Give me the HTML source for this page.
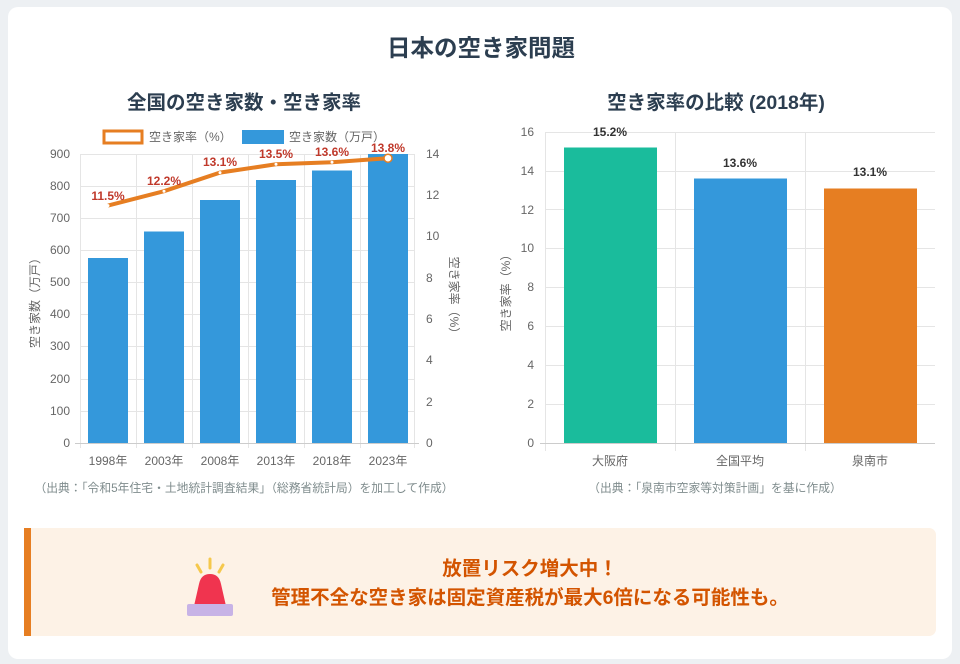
<!DOCTYPE html>
<html><head><meta charset="utf-8"><style>
html,body{margin:0;padding:0;background:#edf0f3;width:960px;height:664px;overflow:hidden}
svg{display:block}
text{font-family:"Liberation Sans","Noto Sans CJK JP",sans-serif}
</style></head><body>
<svg width="960" height="664" viewBox="0 0 960 664" xmlns="http://www.w3.org/2000/svg">
<rect x="8" y="7" width="944" height="652" rx="10" fill="#fff"/>
<text x="481" y="56" text-anchor="middle" font-size="23.5" font-weight="bold" fill="#2c3e50">日本の空き家問題</text>
<text x="244" y="109" text-anchor="middle" font-size="19.5" font-weight="bold" fill="#2c3e50">全国の空き家数・空き家率</text>
<text x="716" y="109" text-anchor="middle" font-size="19.5" font-weight="bold" fill="#2c3e50">空き家率の比較 (2018年)</text>

<!-- left chart -->
<g stroke="#e5e5e5" stroke-width="1">
<line x1="80" y1="154.5" x2="414" y2="154.5"/><line x1="80" y1="186.5" x2="414" y2="186.5"/><line x1="80" y1="218.5" x2="414" y2="218.5"/><line x1="80" y1="250.5" x2="414" y2="250.5"/><line x1="80" y1="282.5" x2="414" y2="282.5"/><line x1="80" y1="314.5" x2="414" y2="314.5"/><line x1="80" y1="346.5" x2="414" y2="346.5"/><line x1="80" y1="379.5" x2="414" y2="379.5"/><line x1="80" y1="411.5" x2="414" y2="411.5"/>
<line x1="136.5" y1="154" x2="136.5" y2="448"/><line x1="192.5" y1="154" x2="192.5" y2="448"/><line x1="248.5" y1="154" x2="248.5" y2="448"/><line x1="304.5" y1="154" x2="304.5" y2="448"/><line x1="360.5" y1="154" x2="360.5" y2="448"/>
<line x1="80.5" y1="154" x2="80.5" y2="448"/><line x1="414.5" y1="154" x2="414.5" y2="448"/>
<line x1="75" y1="443.5" x2="419" y2="443.5" stroke="#ccc"/>
</g>
<g fill="#3498db">
<rect x="88" y="258" width="40" height="185"/>
<rect x="144" y="231.5" width="40" height="211.5"/>
<rect x="200" y="200" width="40" height="243"/>
<rect x="256" y="180" width="40" height="263"/>
<rect x="312" y="170.5" width="40" height="272.5"/>
<rect x="368" y="154" width="40" height="289"/>
</g>
<g font-size="12" fill="#666" text-anchor="end">
<text x="70" y="158">900</text><text x="70" y="190">800</text><text x="70" y="222">700</text><text x="70" y="254">600</text><text x="70" y="286">500</text><text x="70" y="318">400</text><text x="70" y="350">300</text><text x="70" y="383">200</text><text x="70" y="415">100</text><text x="70" y="447">0</text>
</g>
<g font-size="12" fill="#666">
<text x="426" y="158">14</text><text x="426" y="199">12</text><text x="426" y="240">10</text><text x="426" y="282">8</text><text x="426" y="323">6</text><text x="426" y="364">4</text><text x="426" y="406">2</text><text x="426" y="447">0</text>
</g>
<g font-size="12" fill="#666" text-anchor="middle">
<text x="108" y="465">1998年</text><text x="164" y="465">2003年</text><text x="220" y="465">2008年</text><text x="276" y="465">2013年</text><text x="332" y="465">2018年</text><text x="388" y="465">2023年</text>
</g>
<text transform="translate(39,300) rotate(-90)" font-size="12" fill="#666" text-anchor="middle">空き家数（万戸）</text>
<text transform="translate(450,298) rotate(90)" font-size="12" fill="#666" text-anchor="middle">空き家率（%）</text>
<polyline points="108,205.6 164,191.2 220,172.6 276,164.3 332,162.3 388,158.2" fill="none" stroke="#e67e22" stroke-width="4"/>
<g fill="#fff"><circle cx="108" cy="205.6" r="1.5"/><circle cx="164" cy="191.2" r="1.5"/><circle cx="220" cy="172.6" r="1.5"/><circle cx="276" cy="164.3" r="1.5"/><circle cx="332" cy="162.3" r="1.5"/></g>
<circle cx="388" cy="158.2" r="4" fill="#fff" stroke="#e67e22" stroke-width="1.5"/>
<g font-size="12" font-weight="bold" fill="#c0392b" text-anchor="middle">
<text x="108" y="200">11.5%</text><text x="164" y="185">12.2%</text><text x="220" y="166">13.1%</text><text x="276" y="158">13.5%</text><text x="332" y="156">13.6%</text><text x="388" y="152">13.8%</text>
</g>
<rect x="104" y="131" width="38" height="12" fill="#fff" stroke="#e67e22" stroke-width="3"/>
<text x="149" y="141" font-size="12" fill="#666">空き家率（%）</text>
<rect x="242" y="130" width="42" height="14" fill="#3498db"/>
<text x="289" y="141" font-size="12" fill="#666">空き家数（万戸）</text>
<text x="244" y="492" text-anchor="middle" font-size="11.8" fill="#7f8c8d">（出典：「令和5年住宅・土地統計調査結果」（総務省統計局）を加工して作成）</text>

<!-- right chart -->
<g stroke="#e5e5e5" stroke-width="1">
<line x1="545" y1="132.5" x2="935" y2="132.5"/><line x1="545" y1="171.5" x2="935" y2="171.5"/><line x1="545" y1="209.5" x2="935" y2="209.5"/><line x1="545" y1="248.5" x2="935" y2="248.5"/><line x1="545" y1="287.5" x2="935" y2="287.5"/><line x1="545" y1="326.5" x2="935" y2="326.5"/><line x1="545" y1="365.5" x2="935" y2="365.5"/><line x1="545" y1="404.5" x2="935" y2="404.5"/>
<line x1="545.5" y1="132" x2="545.5" y2="451"/><line x1="675.5" y1="132" x2="675.5" y2="451"/><line x1="805.5" y1="132" x2="805.5" y2="451"/>
<line x1="540" y1="443.5" x2="935" y2="443.5" stroke="#ccc"/>
</g>
<rect x="564" y="147.5" width="93" height="295.5" fill="#1abc9c"/>
<rect x="694" y="178.5" width="93" height="264.5" fill="#3498db"/>
<rect x="824" y="188.5" width="93" height="254.5" fill="#e67e22"/>
<g font-size="12" font-weight="bold" fill="#333" text-anchor="middle">
<text x="610" y="136">15.2%</text><text x="740" y="167">13.6%</text><text x="870" y="176">13.1%</text>
</g>
<g font-size="12" fill="#666" text-anchor="end">
<text x="534" y="136">16</text><text x="534" y="175">14</text><text x="534" y="214">12</text><text x="534" y="252">10</text><text x="534" y="291">8</text><text x="534" y="330">6</text><text x="534" y="369">4</text><text x="534" y="408">2</text><text x="534" y="447">0</text>
</g>
<g font-size="12" fill="#666" text-anchor="middle">
<text x="610" y="465">大阪府</text><text x="740" y="465">全国平均</text><text x="870" y="465">泉南市</text>
</g>
<text transform="translate(510,290) rotate(-90)" font-size="12" fill="#666" text-anchor="middle">空き家率（%）</text>
<text x="715" y="492" text-anchor="middle" font-size="11.8" fill="#7f8c8d">（出典：「泉南市空家等対策計画」を基に作成）</text>

<!-- banner -->
<rect x="24" y="528" width="912" height="108" rx="7" fill="#fdf2e6"/>
<rect x="24" y="528" width="7" height="108" fill="#e67e22"/>
<g>
<line x1="210" y1="559" x2="210" y2="568" stroke="#f5c84c" stroke-width="3" stroke-linecap="round"/>
<line x1="197" y1="565" x2="201" y2="572" stroke="#f5c84c" stroke-width="3" stroke-linecap="round"/>
<line x1="223" y1="565" x2="219" y2="572" stroke="#f5c84c" stroke-width="3" stroke-linecap="round"/>
<path d="M194,606 L199,584 Q201,574 210,574 Q219,574 221,584 L226,606 Z" fill="#f0344f"/>
<rect x="187" y="604" width="46" height="12" rx="2" fill="#c7b3e6"/>
</g>
<text x="530" y="575" text-anchor="middle" font-size="19.5" font-weight="bold" fill="#d35400">放置リスク増大中！</text>
<text x="530" y="604" text-anchor="middle" font-size="19.5" font-weight="bold" fill="#d35400">管理不全な空き家は固定資産税が最大6倍になる可能性も。</text>
</svg>
</body></html>
